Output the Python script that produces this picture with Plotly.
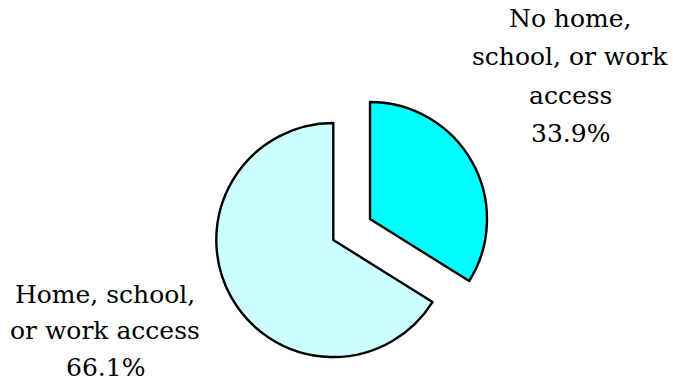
import plotly.graph_objects as go

# Data
categories = ["No home, school, or work access", "Home, school, or work access"]
values = [33.9, 66.1]
label_lines = [["No home,", "school, or work", "access"], ["Home, school,", "or work access"]]
colors = ["#00FFFF", "#CCFFFF"]

W, H = 673, 381

def dom(cx, cy, r):
    return dict(x=[(cx - r) / W, (cx + r) / W], y=[1 - (cy + r) / H, 1 - (cy - r) / H])

fig = go.Figure()
# big slice (unpulled)
fig.add_trace(go.Pie(
    labels=categories, values=values, sort=False, direction="clockwise", rotation=0,
    marker=dict(colors=["rgba(0,0,0,0)", colors[1]], line=dict(color=["rgba(0,0,0,0)", "black"], width=[0, 2.4])),
    textinfo="none", hoverinfo="skip", showlegend=False,
    domain=dom(333.3, 240, 117),
))
# small slice (pulled out)
fig.add_trace(go.Pie(
    labels=categories, values=values, sort=False, direction="clockwise", rotation=0,
    marker=dict(colors=[colors[0], "rgba(0,0,0,0)"], line=dict(color=["black", "rgba(0,0,0,0)"], width=[2.4, 0])),
    textinfo="none", hoverinfo="skip", showlegend=False,
    domain=dom(370, 219, 117),
))

font = dict(family="DejaVu Serif", size=25, color="black")
anns = []
label_pos = [(570, 19, 38), (105, 294, 36.5)]
for i, (lines, v) in enumerate(zip(label_lines, values)):
    cx, y0, step = label_pos[i]
    for j, t in enumerate(lines + [f"{v:.1f}%"]):
        anns.append(dict(x=cx / W, y=1 - (y0 + j * step) / H, xref="paper", yref="paper",
                         text=t, showarrow=False, xanchor="center", yanchor="middle", font=font))

fig.update_layout(width=W, height=H, margin=dict(l=0, r=0, t=0, b=0),
                  paper_bgcolor="white", plot_bgcolor="white", annotations=anns)
fig.write_html("out.html")
